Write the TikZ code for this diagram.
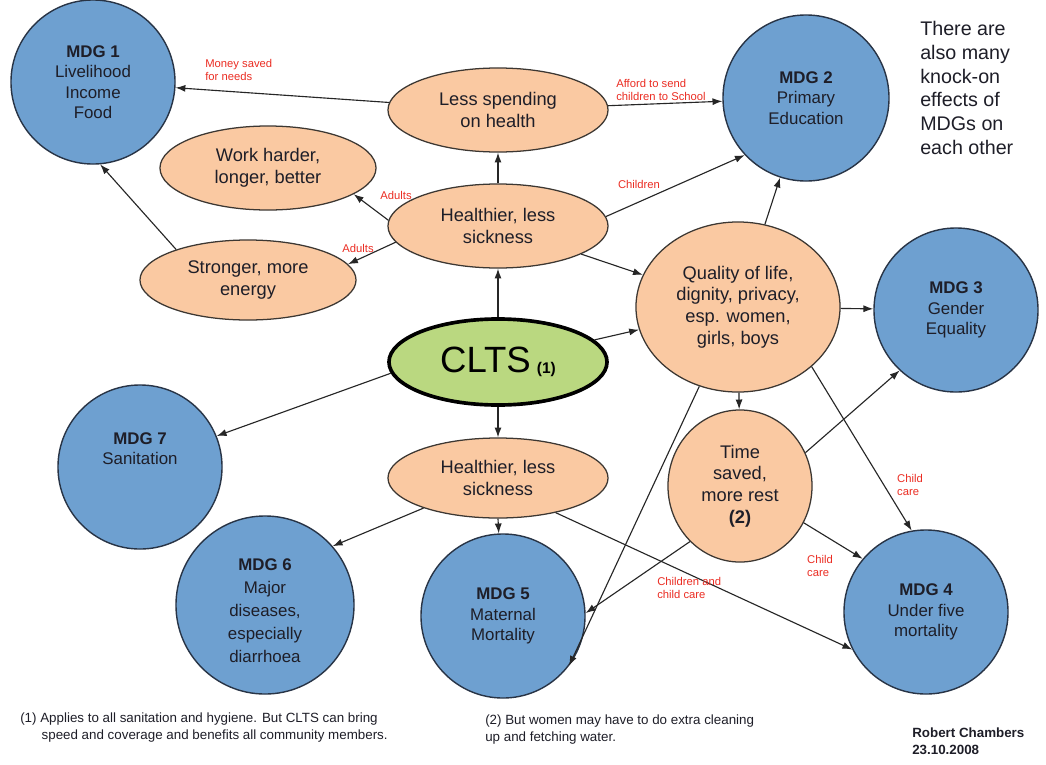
\documentclass[tikz,border=0pt]{standalone}
\usepackage{fontspec}
\setmainfont{Liberation Sans}
\usetikzlibrary{shapes.geometric,arrows.meta}
\definecolor{mdgblue}{RGB}{110,160,208}
\definecolor{mdgedge}{RGB}{40,52,70}
\definecolor{efforange}{RGB}{250,201,162}
\definecolor{effedge}{RGB}{60,55,50}
\definecolor{cltsgreen}{RGB}{186,216,128}
\definecolor{labred}{RGB}{235,45,35}
\definecolor{txt}{RGB}{30,30,40}
\begin{document}
\begin{tikzpicture}[x=0.025cm,y=-0.025cm,
  mdg/.style={circle,draw=mdgedge,line width=1pt,fill=mdgblue,inner sep=0pt,align=center,
    minimum size=4.1cm,text=txt,font=\fontsize{12}{14.5}\selectfont},
  eff/.style={ellipse,draw=effedge,line width=0.9pt,fill=efforange,inner sep=0pt,align=center,
    text=txt,font=\fontsize{13}{15.5}\selectfont},
  conn/.style={-{Latex[length=7pt,width=5pt]},line width=0.8pt,draw=black!85},
  lab/.style={text=labred,font=\fontsize{8}{9}\selectfont,align=left,inner sep=0pt},
  note/.style={text=txt,align=left,inner sep=0pt,anchor=north west}
]
\useasboundingbox[fill=white] (0,0) rectangle (1046,764);

% MDG circles
\node[mdg] (mdg1) at (93,82) {\textbf{MDG 1}\\Livelihood\\Income\\Food};
\node[mdg,minimum size=4.15cm] (mdg2) at (806,98) {\textbf{MDG 2}\\Primary\\Education};
\node[mdg] (mdg3) at (956,310) {\textbf{MDG 3}\\Gender\\Equality};
\node[mdg] (mdg4) at (926,612) {\textbf{MDG 4}\\Under five\\mortality};
\node[mdg] (mdg5) at (503,616) {\textbf{MDG 5}\\Maternal\\Mortality};
\node[mdg,minimum size=4.45cm,font=\fontsize{12}{16.5}\selectfont] (mdg6) at (265,605) {\mbox{}\\\textbf{MDG 6}\\Major\\diseases,\\especially\\diarrhoea};
\node[mdg] (mdg7) at (140,467) {\textbf{MDG 7}\\Sanitation\\[12pt]};

% effect ellipses
\node[eff,minimum width=5.5cm,minimum height=2.1cm] (less) at (498,110) {Less spending\\on health};
\node[eff,minimum width=5.4cm,minimum height=2.1cm] (work) at (268,168) {Work harder,\\longer, better};
\node[eff,minimum width=5.5cm,minimum height=2.1cm] (hlthA) at (498,226) {Healthier, less\\sickness};
\node[eff,minimum width=5.4cm,minimum height=2.0cm] (strong) at (248,280) {Stronger, more\\energy};
\node[eff,minimum width=5.1cm,minimum height=4.25cm] (qol) at (738,307) {Quality of life,\\dignity, privacy,\\esp. women,\\girls, boys};
\node[ellipse,draw=black,line width=2.6pt,fill=cltsgreen,inner sep=0pt,minimum width=5.45cm,minimum height=2.15cm] (clts) at (498,362)
  {\fontsize{26}{28}\selectfont CLTS\,\raisebox{-1pt}{\fontsize{11}{12}\selectfont\textbf{(1)}}};
\node[eff,minimum width=5.5cm,minimum height=2.0cm] (hlthB) at (498,478) {Healthier, less\\sickness};
\node[eff,minimum width=3.6cm,minimum height=3.8cm] (time) at (740,486) {Time\\saved,\\more rest\\\textbf{(2)}};

% connectors
\draw[conn] (less) -- (mdg1);
\draw[conn] (less) -- (mdg2);
\draw[conn] (hlthA) -- (less);
\draw[conn] (hlthA.177) -- (work.-17);
\draw[conn] (hlthA.189) -- (strong.9);
\draw[conn] (hlthA.5) -- (mdg2.223);
\draw[conn] (hlthA) -- (qol);
\draw[conn] (strong.157) -- (mdg1.-85);
\draw[conn] (clts) -- (hlthA);
\draw[conn] (clts) -- (qol);
\draw[conn] (clts.186) -- (mdg7.22);
\draw[conn] (clts) -- (hlthB);
\draw[conn] (hlthB.202) -- (mdg6.41);
\draw[conn] (hlthB.south) -- (mdg5);
\draw[conn] (hlthB.-31) -- (mdg4.207);
\draw[conn] (qol) -- (mdg2);
\draw[conn] (qol) -- (mdg3);
\draw[conn] (qol) -- (time);
\draw[conn] (qol.244) -- (mdg5.-37);
\draw[conn] (qol.-39) -- (mdg4.100);
\draw[conn] (time.27) -- (mdg3.227);
\draw[conn] (time.-30) -- (mdg4.140);
\draw[conn] (time.228) -- (mdg5.2);

% red labels
\node[lab,anchor=west] (lmoney) at (205,70) {Money saved\\for needs};
\node[lab,anchor=west] (lafford) at (616,90) {Afford to send\\children to School};
\node[lab] (ladult1) at (396,195) {Adults};
\node[lab] (ladult2) at (358,248) {Adults};
\node[lab] (lchild) at (639,184) {Children};
\node[lab] (lcc1) at (910,485) {Child\\care};
\node[lab] (lcc2) at (820,566) {Child\\care};
\node[lab,anchor=west] (lcc3) at (657,588) {Children and\\child care};

% side and foot notes
\node[note,font=\fontsize{14}{16.9}\selectfont] (knock) at (920,21) {There are\\also many\\knock-on\\effects of\\MDGs on\\each other};
\node[note,font=\fontsize{9.5}{11.5}\selectfont] (fn1) at (20,713) {(1) Applies to all sanitation and hygiene. But CLTS can bring\\\hspace*{1.6em}speed and coverage and benefits all community members.};
\node[note,font=\fontsize{9.5}{11.5}\selectfont] (fn2) at (485,715) {(2) But women may have to do extra cleaning\\up and fetching water.};
\node[note,font=\bfseries\fontsize{9.5}{11.5}\selectfont] (auth) at (912,728) {Robert Chambers\\23.10.2008};
\end{tikzpicture}
\end{document}
